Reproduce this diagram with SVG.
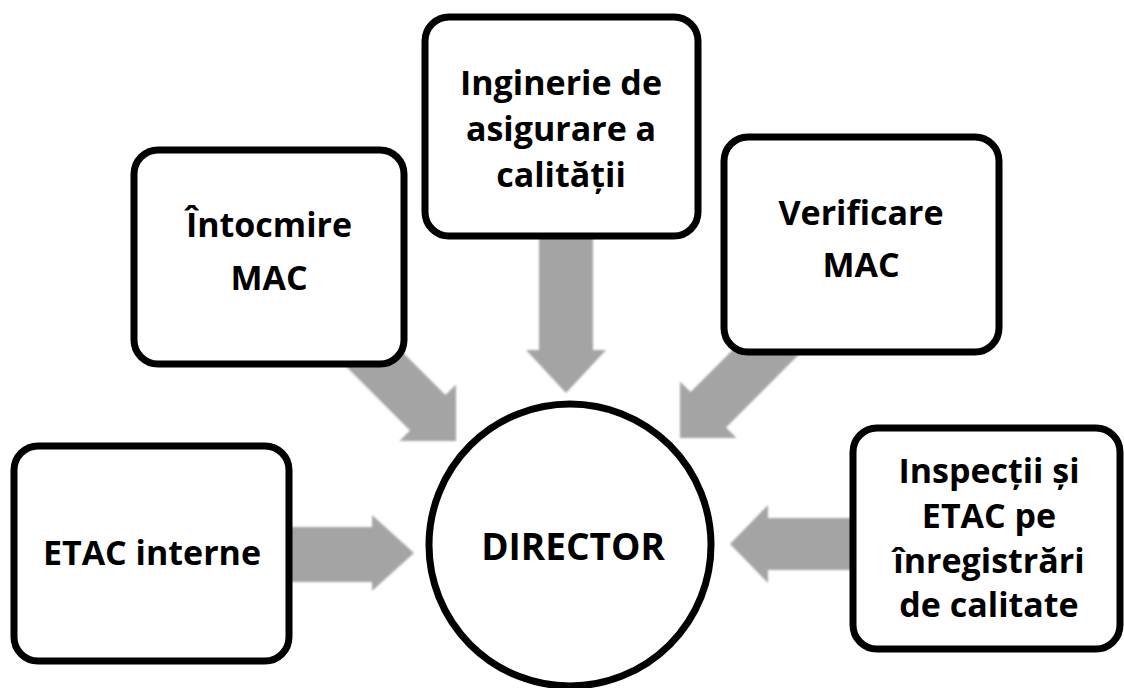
<svg xmlns="http://www.w3.org/2000/svg" width="1124" height="688" viewBox="0 0 1124 688">
  <defs>
    <style>
      .box { fill: #ffffff; stroke: #000000; stroke-width: 7; }
      .arrow { fill: #a4a4a4; filter: url(#soft); }
      .lbl { font-family: "Open Sans", "Noto Sans", "Liberation Sans", sans-serif; font-weight: 700; font-size: 34px; fill: #000000; text-anchor: middle; }
      .big { font-size: 37px; }
    </style>
    <filter id="soft" x="-10%" y="-10%" width="120%" height="120%">
      <feGaussianBlur stdDeviation="1.2"/>
    </filter>
  </defs>
  <rect width="1124" height="688" fill="#ffffff"/>

  <g id="connectors">
    <polygon class="arrow" points="539,230 593,230 593,350 606,350 566,393 526,350 539,350"/>
    <polygon class="arrow" points="364.1,313.7 445.4,395 456,384.4 456,441 399.4,441 410,430.4 328.7,349.1"/>
    <polygon class="arrow" transform="translate(1136,-3) scale(-1,1)" points="364.1,313.7 445.4,395 456,384.4 456,441 399.4,441 410,430.4 328.7,349.1"/>
    <polygon class="arrow" points="285,527 372,527 372,515 414,553 372,591 372,582 285,582"/>
    <polygon class="arrow" points="858,518 768,518 768,505 730,544 768,583 768,570 858,570"/>
  </g>

  <g id="node-inginerie">
    <rect class="box" x="425" y="17" width="273" height="219" rx="24"/>
    <text class="lbl" x="561" y="95">Inginerie de</text>
    <text class="lbl" x="561" y="141">asigurare a</text>
    <text class="lbl" x="561" y="187">calității</text>
  </g>

  <g id="node-intocmire">
    <rect class="box" x="134" y="150" width="270" height="214" rx="24"/>
    <text class="lbl" x="269" y="237">Întocmire</text>
    <text class="lbl" x="269" y="290">MAC</text>
  </g>

  <g id="node-verificare">
    <rect class="box" x="724" y="137" width="275" height="215" rx="24"/>
    <text class="lbl" x="861" y="225">Verificare</text>
    <text class="lbl" x="861" y="277">MAC</text>
  </g>

  <g id="node-etac">
    <rect class="box" x="14" y="446" width="275" height="215" rx="24"/>
    <text class="lbl" x="152" y="565">ETAC interne</text>
  </g>

  <g id="node-inspectii">
    <rect class="box" x="853" y="428" width="267" height="221" rx="24"/>
    <text class="lbl" x="989" y="483">Inspecții și</text>
    <text class="lbl" x="989" y="528">ETAC pe</text>
    <text class="lbl" x="989" y="573">înregistrări</text>
    <text class="lbl" x="989" y="617">de calitate</text>
  </g>

  <g id="node-director">
    <circle class="box" cx="570" cy="545" r="141"/>
    <text class="lbl big" x="573" y="560">DIRECTOR</text>
  </g>
</svg>
